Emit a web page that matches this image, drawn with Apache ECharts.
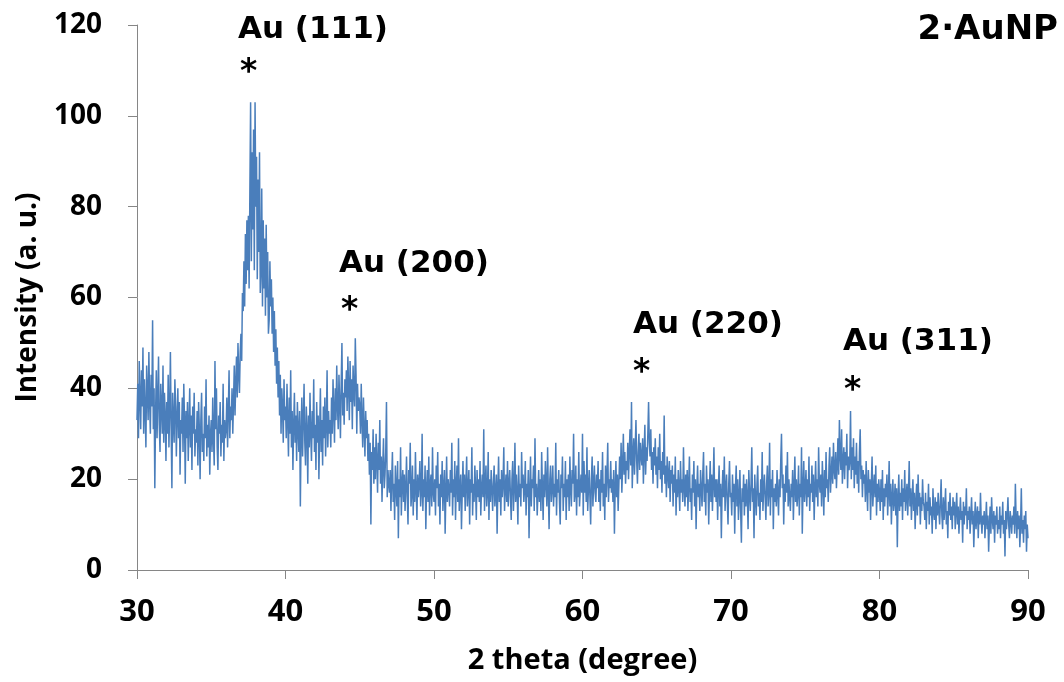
<!DOCTYPE html>
<html>
<head>
<meta charset="utf-8">
<script src="https://cdn.jsdelivr.net/npm/echarts@6/dist/echarts.min.js"></script>
<style>
  html, body { margin: 0; padding: 0; background: #fff; }
  #chart { width: 1064px; height: 682px; }
</style>
</head>
<body>
<div id="chart"></div>
<script>
// 扫描:2θ 从 30° 起,步长 0.05°
const THETA_START = 30
const THETA_STEP = 0.05

// 强度读数(每行 1°,20 个点)
const INTENSITY = [
  33, 41, 29, 46, 38, 31, 44, 36, 49, 30, 42, 35, 27, 45, 39, 33, 48, 37, 30, 43,
  36, 55, 31, 40, 18, 34, 44, 29, 38, 47, 32, 26, 41, 36, 30, 45, 28, 39, 34, 24,
  37, 30, 43, 27, 35, 48, 31, 18, 39, 33, 28, 42, 36, 25, 34, 40, 29, 37, 21, 33,
  30, 38, 26, 41, 33, 19, 35, 29, 37, 24, 32, 40, 27, 34, 22, 36, 30, 39, 25, 31,
  28, 35, 23, 37, 31, 20, 33, 39, 26, 30, 24, 36, 29, 42, 25, 32, 27, 34, 21, 30,
  33, 26, 38, 29, 23, 46, 31, 40, 27, 22, 34, 30, 37, 25, 32, 28, 41, 24, 33, 29,
  31, 38, 27, 35, 44, 29, 36, 33, 40, 30, 37, 45, 34, 41, 47, 38, 50, 43, 39, 48,
  52, 46, 61, 57, 68, 58, 74, 63, 77, 66, 78, 62, 83, 103, 68, 92, 75, 97, 66, 103,
  80, 91, 64, 86, 70, 92, 61, 66, 84, 58, 77, 62, 73, 56, 76, 60, 70, 52, 55, 68,
  58, 64, 52, 60, 48, 57, 45, 53, 41, 49, 38, 46, 34, 43, 30, 40, 36, 28, 42, 33,
  36, 29, 41, 33, 25, 38, 30, 44, 27, 35, 22, 32, 39, 28, 34, 24, 37, 31, 26, 35,
  14, 30, 38, 25, 33, 41, 28, 23, 36, 31, 19, 34, 27, 39, 30, 24, 35, 29, 42, 26,
  32, 22, 37, 28, 34, 20, 31, 40, 26, 33, 23, 36, 29, 38, 25, 32, 44, 27, 35, 30,
  33, 27, 38, 30, 42, 35, 28, 40, 33, 45, 36, 31, 43, 37, 29, 41, 50, 34, 39, 32,
  42, 38, 44, 35, 47, 40, 33, 46, 37, 42, 31, 45, 39, 36, 51, 43, 30, 41, 35, 38,
  36, 30, 41, 33, 27, 38, 31, 25, 35, 29, 33, 24, 30, 21, 28, 10, 26, 22, 31, 19,
  27, 20, 30, 24, 17, 28, 22, 33, 19, 25, 15, 23, 29, 18, 21, 26, 37, 16, 22, 19,
  17, 22, 13, 20, 26, 15, 19, 11, 23, 18, 14, 24, 7, 20, 16, 27, 12, 19, 22, 15,
  21, 13, 18, 25, 16, 10, 22, 19, 28, 14, 17, 23, 12, 20, 15, 26, 18, 11, 21, 16,
  19, 24, 14, 17, 30, 13, 20, 16, 23, 9, 18, 22, 15, 25, 12, 19, 21, 14, 27, 17,
  15, 20, 12, 23, 18, 26, 14, 19, 10, 21, 16, 24, 13, 18, 22, 8, 17, 25, 15, 20,
  18, 14, 22, 17, 28, 12, 20, 16, 24, 11, 19, 23, 15, 29, 13, 18, 21, 9, 17, 24,
  16, 21, 13, 19, 25, 14, 18, 22, 10, 20, 17, 27, 12, 19, 15, 23, 18, 11, 22, 16,
  20, 15, 24, 12, 18, 21, 16, 31, 13, 19, 23, 14, 17, 26, 11, 20, 15, 22, 18, 13,
  19, 23, 14, 17, 21, 8, 18, 25, 15, 20, 12, 22, 16, 19, 27, 13, 18, 21, 15, 24,
  14, 19, 22, 16, 11, 20, 24, 13, 18, 28, 15, 21, 17, 10, 23, 16, 19, 14, 26, 18,
  21, 15, 18, 24, 12, 19, 16, 22, 7, 17, 25, 14, 20, 18, 23, 13, 29, 16, 19, 12,
  17, 22, 15, 20, 13, 26, 18, 11, 21, 16, 24, 19, 14, 27, 17, 9, 20, 23, 15, 18,
  23, 14, 19, 16, 28, 12, 20, 17, 22, 15, 10, 21, 18, 25, 13, 19, 16, 24, 11, 20,
  16, 21, 13, 25, 18, 14, 22, 19, 30, 15, 17, 23, 12, 20, 16, 26, 14, 18, 21, 17,
  30, 12, 24, 17, 21, 15, 27, 13, 18, 22, 16, 10, 20, 25, 14, 19, 23, 17, 15, 21,
  18, 24, 15, 20, 13, 22, 17, 26, 14, 19, 11, 23, 16, 21, 28, 15, 20, 18, 24, 17,
  20, 15, 22, 8, 18, 24, 16, 21, 13, 19, 25, 20, 28, 17, 23, 30, 21, 26, 19, 24,
  22, 28, 20, 26, 31, 23, 37, 18, 25, 29, 21, 27, 33, 24, 19, 26, 30, 22, 28, 25,
  23, 29, 19, 26, 32, 21, 27, 24, 30, 37, 28, 25, 31, 22, 26, 19, 27, 23, 29, 21,
  25, 18, 27, 22, 30, 20, 24, 17, 26, 21, 34, 19, 23, 16, 25, 21, 18, 24, 15, 22,
  19, 23, 14, 21, 17, 25, 12, 20, 16, 22, 18, 13, 24, 17, 20, 15, 27, 18, 14, 21,
  16, 22, 13, 19, 25, 15, 18, 11, 21, 17, 24, 14, 20, 9, 18, 23, 16, 19, 13, 22,
  18, 14, 21, 26, 15, 19, 12, 23, 17, 20, 10, 18, 24, 15, 21, 13, 19, 27, 16, 20,
  15, 20, 11, 18, 23, 14, 19, 7, 17, 22, 16, 25, 13, 18, 21, 15, 10, 19, 24, 16,
  17, 12, 21, 15, 19, 8, 18, 23, 14, 20, 11, 16, 22, 13, 6, 18, 15, 21, 12, 19,
  14, 20, 16, 9, 22, 17, 13, 19, 27, 15, 18, 7, 21, 16, 12, 19, 23, 14, 17, 11,
  20, 15, 26, 13, 18, 21, 16, 11, 19, 23, 14, 17, 28, 12, 20, 16, 22, 9, 18, 15,
  19, 14, 22, 17, 12, 20, 16, 24, 30, 18, 21, 10, 19, 15, 23, 17, 26, 14, 20, 16,
  13, 19, 16, 22, 11, 18, 25, 15, 20, 14, 17, 23, 12, 19, 16, 27, 8, 18, 24, 15,
  18, 22, 14, 20, 16, 25, 13, 19, 17, 23, 15, 21, 11, 18, 24, 16, 20, 14, 27, 19,
  17, 21, 14, 24, 19, 12, 22, 16, 26, 18, 20, 15, 23, 27, 17, 21, 25, 19, 28, 22,
  20, 26, 18, 23, 29, 21, 33, 25, 22, 31, 19, 24, 27, 20, 26, 23, 30, 18, 25, 22,
  24, 35, 20, 27, 22, 29, 18, 25, 21, 28, 19, 24, 17, 26, 31, 20, 23, 16, 22, 19,
  21, 15, 24, 18, 13, 22, 17, 20, 11, 19, 25, 14, 18, 21, 16, 23, 12, 19, 15, 20,
  17, 13, 20, 15, 22, 11, 18, 14, 19, 16, 21, 12, 17, 24, 14, 19, 10, 16, 20, 13,
  15, 19, 12, 18, 5, 16, 21, 13, 17, 14, 20, 11, 18, 15, 22, 13, 16, 19, 12, 17,
  24, 14, 18, 11, 16, 20, 13, 17, 9, 15, 19, 12, 21, 14, 17, 10, 16, 13, 20, 15,
  14, 11, 17, 9, 15, 13, 19, 10, 16, 12, 14, 8, 18, 13, 11, 16, 9, 15, 12, 17,
  13, 10, 15, 20, 12, 9, 16, 11, 14, 18, 10, 13, 7, 15, 12, 17, 11, 14, 9, 16,
  12, 15, 9, 13, 17, 10, 14, 8, 12, 16, 11, 13, 6, 15, 10, 14, 12, 18, 9, 13,
  11, 14, 8, 12, 16, 10, 13, 5, 11, 15, 9, 12, 14, 7, 13, 10, 17, 11, 8, 12,
  10, 13, 7, 11, 15, 9, 12, 4, 10, 14, 8, 16, 11, 9, 13, 6, 12, 10, 14, 8,
  11, 9, 14, 7, 12, 10, 15, 8, 11, 3, 13, 9, 12, 16, 10, 7, 13, 11, 8, 12,
  10, 14, 8, 19, 11, 7, 13, 9, 12, 5, 10, 18, 8, 11, 6, 12, 9, 13, 4, 10,
  7,
]

const PEAK_LABELS = ['Au (111)', 'Au (200)', 'Au (220)', 'Au (311)']
const SAMPLE_NAME = '2·AuNP'
const X_NAME = '2 theta (degree)'
const Y_NAME = 'Intensity (a. u.)'

const points = INTENSITY.map((v, i) => [+(THETA_START + i * THETA_STEP).toFixed(2), v])

/* 峰标注版面(像素):文字左缘、大写字母顶、星号顶 */
const PEAK_LAYOUT = [
  { x: 238, capTop: 18, starX: 240, starTop: 60 },
  { x: 339, capTop: 252, starX: 341, starTop: 298 },
  { x: 633, capTop: 313, starX: 633, starTop: 360 },
  { x: 843, capTop: 330, starX: 844, starTop: 378 },
]

const INK = '#000'
const AXIS = '#868686'
const LINE = '#4A7EBB'
const SANS = "'Open Sans', 'Noto Sans', sans-serif"
const DEJAVU = "'DejaVu Sans', sans-serif"

const graphic = []
PEAK_LABELS.forEach((t, i) => {
  const L = PEAK_LAYOUT[i]
  graphic.push({ type: 'text', left: L.x, top: L.capTop - 4, silent: true,
    style: { text: t, font: `bold 31px ${DEJAVU}`, fill: INK } })
  graphic.push({ type: 'text', left: L.starX, top: L.starTop - 3, silent: true,
    style: { text: '*', font: `bold 33px ${DEJAVU}`, fill: INK } })
})
graphic.push({ type: 'text', right: 6, top: 13, silent: true,
  style: { text: SAMPLE_NAME, font: `bold 34px ${DEJAVU}`, fill: INK } })

const chart = echarts.init(document.getElementById('chart'), null, { renderer: 'canvas' })
chart.setOption({
  animation: false,
  grid: { left: 137, right: 36, top: 25, bottom: 112, containLabel: false },
  xAxis: {
    type: 'value', min: 30, max: 90, interval: 10,
    name: X_NAME, nameLocation: 'middle', nameGap: 76,
    nameTextStyle: { color: INK, fontFamily: SANS, fontWeight: 'bold', fontSize: 29 },
    axisLine: { show: true, lineStyle: { color: AXIS, width: 1 } },
    axisTick: { show: true, length: 9, lineStyle: { color: AXIS } },
    splitLine: { show: false },
    axisLabel: { color: INK, fontFamily: SANS, fontWeight: 'bold', fontSize: 31, margin: 27 },
  },
  yAxis: {
    type: 'value', min: 0, max: 120, interval: 20,
    name: Y_NAME, nameLocation: 'middle', nameGap: 95, nameRotate: 90,
    nameTextStyle: { color: INK, fontFamily: SANS, fontWeight: 'bold', fontSize: 28 },
    axisLine: { show: true, lineStyle: { color: AXIS, width: 1 } },
    axisTick: { show: true, length: 9, lineStyle: { color: AXIS } },
    splitLine: { show: false },
    axisLabel: { color: INK, fontFamily: SANS, fontWeight: 'bold', fontSize: 28, margin: 35 },
  },
  series: [{
    type: 'line', data: points, symbol: 'none', showSymbol: false,
    sampling: null, clip: true,
    lineStyle: { color: LINE, width: 1.5 },
  }],
  graphic,
})
</script>
</body>
</html>
